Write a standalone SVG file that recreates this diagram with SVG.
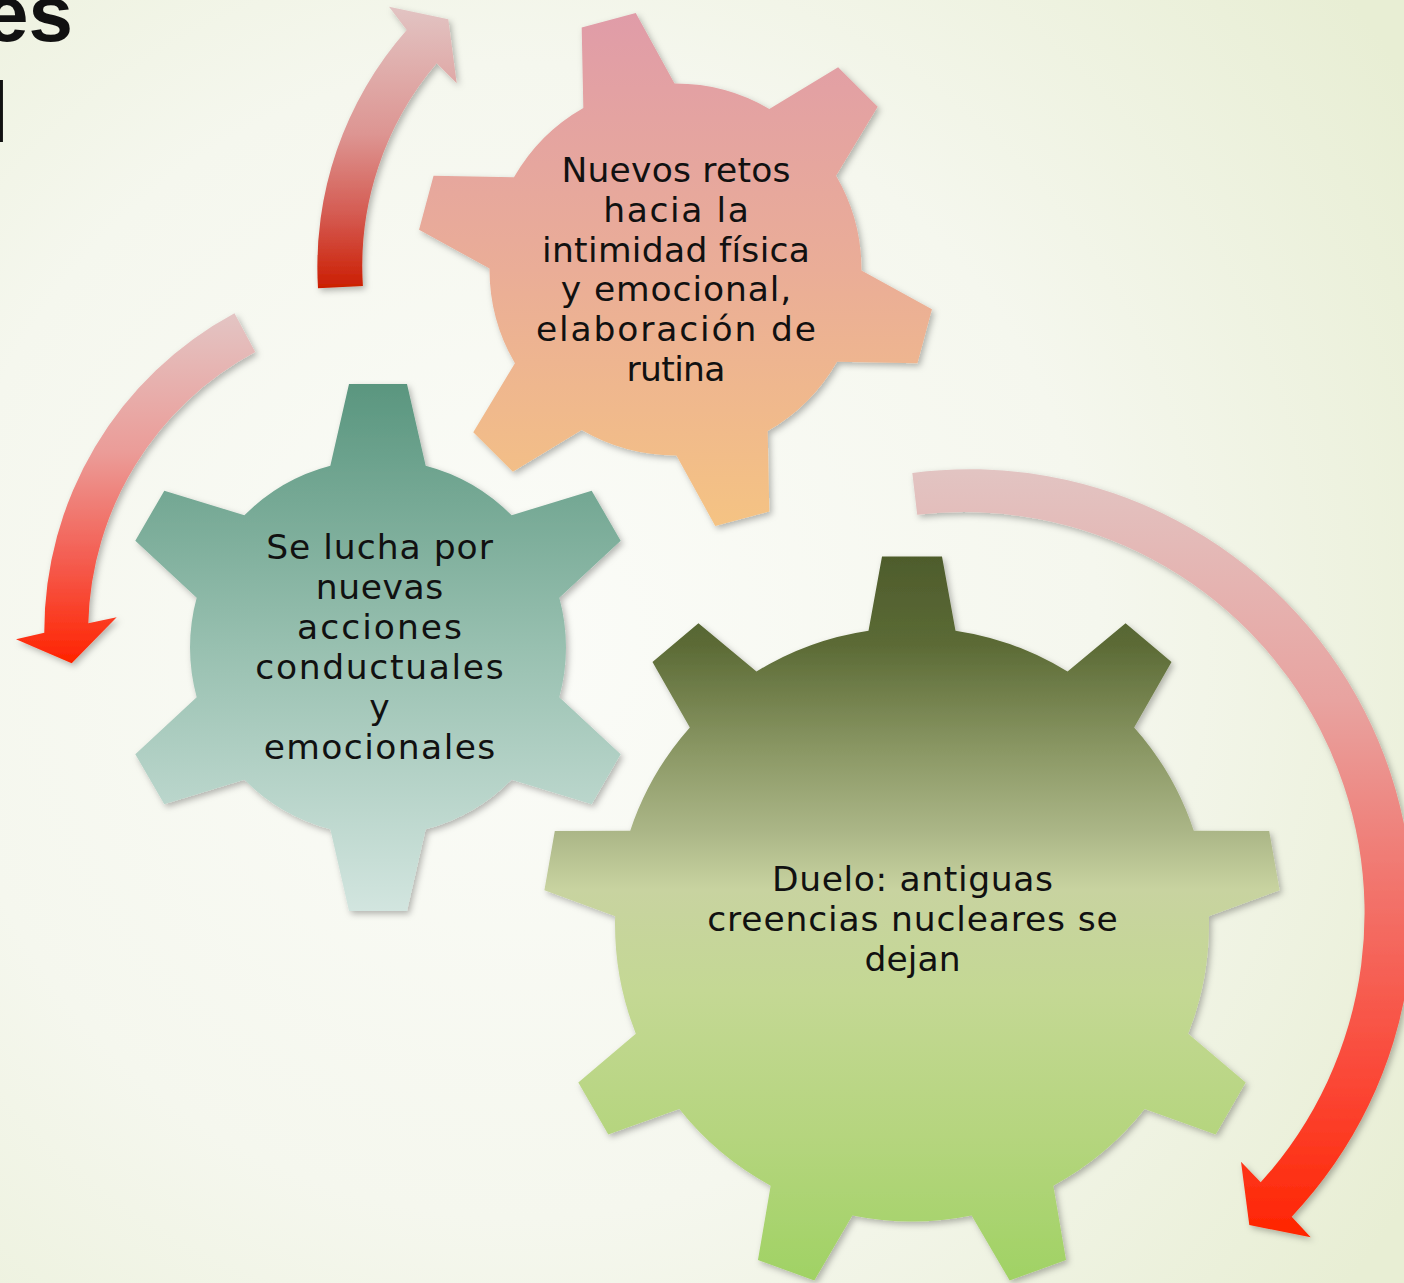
<svg xmlns="http://www.w3.org/2000/svg" width="1404" height="1283" viewBox="0 0 1404 1283">
  <style>
    .lbl { font-family: "DejaVu Sans", "Liberation Sans", sans-serif; font-size: 34.5px; fill: #111; text-anchor: middle; }
    .title { font-family: "Liberation Sans", Arial, sans-serif; fill: #111; }
  </style>
  <defs>
    <radialGradient id="bg" gradientUnits="userSpaceOnUse" cx="520" cy="640" r="1050">
      <stop offset="0" stop-color="#fbfcf8"/>
      <stop offset="0.55" stop-color="#f5f7ee"/>
      <stop offset="1" stop-color="#e8eed4"/>
    </radialGradient>

    <linearGradient id="g-pink" gradientUnits="userSpaceOnUse" x1="0" y1="13" x2="0" y2="526">
      <stop offset="0" stop-color="#e09ca8"/>
      <stop offset="0.5" stop-color="#eaad97"/>
      <stop offset="1" stop-color="#f5c383"/>
    </linearGradient>
    <linearGradient id="g-teal" gradientUnits="userSpaceOnUse" x1="0" y1="384" x2="0" y2="911">
      <stop offset="0" stop-color="#5a967f"/>
      <stop offset="0.5" stop-color="#98c0b0"/>
      <stop offset="1" stop-color="#d2e5df"/>
    </linearGradient>
    <linearGradient id="g-green" gradientUnits="userSpaceOnUse" x1="0" y1="556" x2="0" y2="1281">
      <stop offset="0" stop-color="#4e5c2c"/>
      <stop offset="0.12" stop-color="#5b6a35"/>
      <stop offset="0.27" stop-color="#8b9865"/>
      <stop offset="0.38" stop-color="#abb687"/>
      <stop offset="0.46" stop-color="#c8d3a0"/>
      <stop offset="0.6" stop-color="#c4d894"/>
      <stop offset="0.8" stop-color="#b5d57e"/>
      <stop offset="1" stop-color="#a0d264"/>
    </linearGradient>

    <linearGradient id="a1" gradientUnits="userSpaceOnUse" x1="0" y1="7" x2="0" y2="290">
      <stop offset="0" stop-color="#e2c4c3"/>
      <stop offset="0.45" stop-color="#dd9592"/>
      <stop offset="0.75" stop-color="#d4574d"/>
      <stop offset="1" stop-color="#cb1c00"/>
    </linearGradient>
    <linearGradient id="a2" gradientUnits="userSpaceOnUse" x1="0" y1="312" x2="0" y2="663">
      <stop offset="0" stop-color="#e3c5c4"/>
      <stop offset="0.4" stop-color="#eb9c98"/>
      <stop offset="0.7" stop-color="#f45e52"/>
      <stop offset="1" stop-color="#ff2300"/>
    </linearGradient>
    <linearGradient id="a3" gradientUnits="userSpaceOnUse" x1="0" y1="470" x2="0" y2="1238">
      <stop offset="0" stop-color="#e2c4c2"/>
      <stop offset="0.3" stop-color="#e8a3a0"/>
      <stop offset="0.55" stop-color="#f2736b"/>
      <stop offset="0.8" stop-color="#fb4635"/>
      <stop offset="1" stop-color="#ff2400"/>
    </linearGradient>

    <filter id="shadow" x="-10%" y="-10%" width="125%" height="125%">
      <feDropShadow dx="2.5" dy="3" stdDeviation="3" flood-color="#000" flood-opacity="0.28"/>
    </filter>

    <!-- single teeth, pointing up from the gear centre -->
    <polygon id="tooth-pink" points="-28,-258 28,-258 50.9,-165 -50.9,-165"/>
    <polygon id="tooth-teal" points="-29,-263.5 29,-263.5 50.4,-170 -50.4,-170"/>
    <polygon id="tooth-green" points="-30,-368 30,-368 46,-280 -46,-280"/>

    <!-- six-tooth gear, rotated -15 degrees -->
    <clipPath id="clip-pink">
      <circle cx="675.5" cy="269.5" r="186"/>
      <use href="#tooth-pink" transform="translate(675.5 269.5) rotate(-15)"/>
      <use href="#tooth-pink" transform="translate(675.5 269.5) rotate(45)"/>
      <use href="#tooth-pink" transform="translate(675.5 269.5) rotate(105)"/>
      <use href="#tooth-pink" transform="translate(675.5 269.5) rotate(165)"/>
      <use href="#tooth-pink" transform="translate(675.5 269.5) rotate(225)"/>
      <use href="#tooth-pink" transform="translate(675.5 269.5) rotate(285)"/>
    </clipPath>
    <!-- six-tooth gear, upright -->
    <clipPath id="clip-teal">
      <circle cx="378" cy="647.5" r="188"/>
      <use href="#tooth-teal" transform="translate(378 647.5) rotate(0)"/>
      <use href="#tooth-teal" transform="translate(378 647.5) rotate(60)"/>
      <use href="#tooth-teal" transform="translate(378 647.5) rotate(120)"/>
      <use href="#tooth-teal" transform="translate(378 647.5) rotate(180)"/>
      <use href="#tooth-teal" transform="translate(378 647.5) rotate(240)"/>
      <use href="#tooth-teal" transform="translate(378 647.5) rotate(300)"/>
    </clipPath>
    <!-- nine-tooth gear, upright -->
    <clipPath id="clip-green">
      <circle cx="912" cy="924.5" r="297"/>
      <use href="#tooth-green" transform="translate(912 924.5) rotate(0)"/>
      <use href="#tooth-green" transform="translate(912 924.5) rotate(40)"/>
      <use href="#tooth-green" transform="translate(912 924.5) rotate(80)"/>
      <use href="#tooth-green" transform="translate(912 924.5) rotate(120)"/>
      <use href="#tooth-green" transform="translate(912 924.5) rotate(160)"/>
      <use href="#tooth-green" transform="translate(912 924.5) rotate(200)"/>
      <use href="#tooth-green" transform="translate(912 924.5) rotate(240)"/>
      <use href="#tooth-green" transform="translate(912 924.5) rotate(280)"/>
      <use href="#tooth-green" transform="translate(912 924.5) rotate(320)"/>
    </clipPath>
  </defs>

  <rect width="1404" height="1283" fill="url(#bg)"/>

  <!-- slide title, running off the top-left corner -->
  <text class="title" x="73" y="41" font-size="80" font-weight="bold" text-anchor="end">es</text>
  <text class="title" x="-10.2" y="142" font-size="85">l</text>

  <!-- curved arrows -->
  <g id="connectors" filter="url(#shadow)">
    <path id="arrow-up" fill="url(#a1)" d="M 318 288.2 A 358 358 0 0 1 406.7 30 L 389 6.7 L 448.3 19.3 L 456.7 83.3 L 436.7 63.3 A 313 313 0 0 0 362.9 285.9 Z"/>
    <path id="arrow-left" fill="url(#a2)" d="M 234.5 313.3 A 361 361 0 0 0 44.3 632.7 L 16 639.3 L 71.7 663.3 L 116.7 617.3 L 88.3 623.3 A 317 317 0 0 1 255.2 352.1 Z"/>
    <path id="arrow-right" fill="url(#a3)" d="M 912.3 473 A 443 443 0 0 1 1291.7 1216.7 L 1310.7 1237.3 L 1249.3 1225 L 1241 1161.7 L 1260.7 1182.3 A 401 401 0 0 0 917.2 514.7 Z"/>
  </g>

  <g id="gear-nuevos-retos">
    <g filter="url(#shadow)">
      <rect x="410" y="5" width="530" height="530" fill="url(#g-pink)" clip-path="url(#clip-pink)"/>
    </g>
    <text class="lbl" x="676" y="182" textLength="229">Nuevos retos</text>
    <text class="lbl" x="676" y="221.8" textLength="145.7">hacia la</text>
    <text class="lbl" x="676" y="261.6" textLength="268">intimidad física</text>
    <text class="lbl" x="676" y="301.4" textLength="230.5">y emocional,</text>
    <text class="lbl" x="676" y="341.2" textLength="280">elaboración de</text>
    <text class="lbl" x="676" y="381" textLength="99">rutina</text>
  </g>

  <g id="gear-se-lucha">
    <g filter="url(#shadow)">
      <rect x="125" y="378" width="510" height="540" fill="url(#g-teal)" clip-path="url(#clip-teal)"/>
    </g>
    <text class="lbl" x="379.5" y="559" textLength="226.7">Se lucha por</text>
    <text class="lbl" x="379.5" y="599" textLength="127.3">nuevas</text>
    <text class="lbl" x="379.5" y="639" textLength="165">acciones</text>
    <text class="lbl" x="379.5" y="679" textLength="248.3">conductuales</text>
    <text class="lbl" x="379.5" y="719">y</text>
    <text class="lbl" x="379.5" y="759" textLength="231.7">emocionales</text>
  </g>

  <g id="gear-duelo">
    <g filter="url(#shadow)">
      <rect x="540" y="550" width="745" height="740" fill="url(#g-green)" clip-path="url(#clip-green)"/>
    </g>
    <text class="lbl" x="912.5" y="891" textLength="281">Duelo: antiguas</text>
    <text class="lbl" x="912.5" y="930.5" textLength="410.4">creencias nucleares se</text>
    <text class="lbl" x="912.5" y="970.5" textLength="96">dejan</text>
  </g>
</svg>
